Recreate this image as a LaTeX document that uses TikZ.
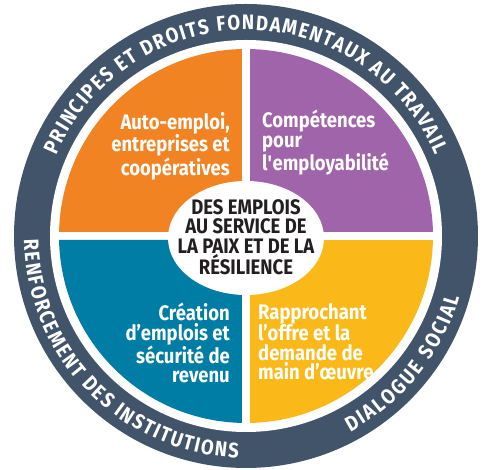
\documentclass[tikz,border=0pt]{standalone}
\usepackage{fontspec}
\setmainfont{Fira Sans}[FakeStretch=0.88]
\usepackage{tikz}
\usetikzlibrary{decorations.text}
\definecolor{ringslate}{HTML}{425469}
\definecolor{selforange}{HTML}{F28322}
\definecolor{skillpurple}{HTML}{A064AA}
\definecolor{incomeblue}{HTML}{007DA5}
\definecolor{matchyellow}{HTML}{FBB919}
\definecolor{centreblack}{HTML}{231F20}
\newcommand{\ringfont}{\fontsize{21}{21}\selectfont\bfseries\color{white}}

\begin{document}
\begin{tikzpicture}[x=1pt, y=1pt, qlabel/.style={text=white, font=\fontsize{21}{19.5}\selectfont\bfseries, inner sep=0pt}, centrelabel/.style={text=centreblack, align=center, font=\fontsize{21}{19.5}\selectfont\bfseries, inner sep=0pt}, ringtext/.style={decorate, decoration={text along path, text align=fit to path, text={|\ringfont|#1}}}]
    \useasboundingbox (-246,-234) rectangle (237,236);

    %Ring
    \fill[ringslate] (0,0) circle[radius=232];
    \fill[white] (0,0) circle[radius=196];

    %Quadrants
    \fill[selforange] (-4,4) -- (-4,186.96) arc[start angle=91.23, end angle=178.77, radius=187] -- cycle;
    \fill[skillpurple] (4,4) -- (186.96,4) arc[start angle=1.23, end angle=88.77, radius=187] -- cycle;
    \fill[incomeblue] (-4,-4) -- (-186.96,-4) arc[start angle=181.23, end angle=268.77, radius=187] -- cycle;
    \fill[matchyellow] (4,-4) -- (4,-186.96) arc[start angle=271.23, end angle=358.77, radius=187] -- cycle;
    \fill[white] (0,-2) ellipse[x radius=78, y radius=57];

    %Nodes
    \node[centrelabel](centre) at (0,-1) {DES EMPLOIS\\AU SERVICE DE\\LA PAIX ET DE LA\\RÉSILIENCE};
    \node[qlabel, align=right, anchor=north east](self_employment) at (-16,124) {Auto-emploi,\\entreprises et\\coopératives};
    \node[qlabel, align=left, anchor=north west](skills) at (16,126) {Compétences\\pour\\l\textquotesingle employabilité};
    \node[qlabel, align=right, anchor=north east](job_creation) at (-16,-67) {Création\\d’emplois et\\sécurité de\\revenu};
    \node[qlabel, align=left, anchor=north west](matching) at (12,-67) {Rapprochant\\l’offre et la\\demande de\\main d’œuvre};

    %Ring labels
    \path[ringtext={PRINCIPES ET DROITS FONDAMENTAUX AU TRAVAIL}] (157:206) arc[start angle=157, end angle=23, radius=206];
    \path[ringtext={RENFORCEMENT DES INSTITUTIONS}] (181:222) arc[start angle=181, end angle=268, radius=222];
    \path[ringtext={DIALOGUE SOCIAL}] (298:222) arc[start angle=298, end angle=344, radius=222];

\end{tikzpicture}
\end{document}
